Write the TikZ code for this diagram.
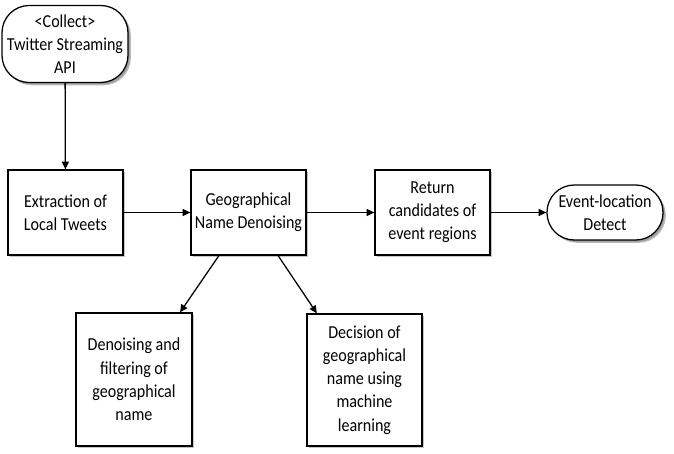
\documentclass[tikz,border=0pt]{standalone}
\usepackage{fontspec}
\setmainfont{Carlito}[FakeStretch=0.88]
\usetikzlibrary{shadows,arrows.meta}

\begin{document}
\begin{tikzpicture}
		\tikzstyle{every node}=[font=\fontsize{13pt}{16.5pt}\selectfont]
		\tikzstyle{stepbox}=[draw, line width=0.9pt, fill=white, align=center, inner sep=0pt, minimum width=2.875cm, drop shadow={shadow xshift=1.2pt, shadow yshift=-1.2pt, fill=black!45}]
		\tikzstyle{termbox}=[stepbox, rounded corners=0.68cm, drop shadow={shadow xshift=2pt, shadow yshift=-2pt, fill=black!55}]
		\tikzstyle{flow}=[line width=0.9pt, -{Triangle[length=5.5pt, width=5pt]}]
		
		\useasboundingbox (0,0) rectangle (16.85,-11.35);
		
		\node[termbox, minimum width=3.15cm, minimum height=1.925cm] (twitter) at (1.625,-1.1) {<Collect>\\Twitter Streaming\\API};
		
		\node[stepbox, minimum height=2.125cm] (extract) at (1.6375,-5.3125) {Extraction of\\Local Tweets};
		\node[stepbox, minimum height=2.125cm] (geo) at (6.2125,-5.3125) {Geographical\\Name Denoising};
		\node[stepbox, minimum height=2.125cm] (ret) at (10.8125,-5.3125) {Return\\candidates of\\event regions};
		\node[termbox, minimum width=2.9cm, minimum height=1.375cm] (event) at (15.125,-5.3125) {Event-location\\Detect};
		
		\node[stepbox, minimum width=2.9cm, minimum height=3.325cm] (denoise) at (3.35,-9.4875) {Denoising and\\filtering of\\geographical\\name};
		\node[stepbox, minimum height=3.3cm] (decide) at (9.1125,-9.5) {Decision of\\geographical\\name using\\machine\\learning};
		
		\draw[flow] (twitter) -- (extract);
		\draw[flow] (extract) -- (geo);
		\draw[flow] (geo) -- (ret);
		\draw[flow] (ret) -- (event);
		\draw[flow] ([xshift=-0.74cm]geo.south) -- ([xshift=1.15cm]denoise.north);
		\draw[flow] ([xshift=0.74cm]geo.south) -- ([xshift=-1.19cm]decide.north);
		
	\end{tikzpicture}
\end{document}
